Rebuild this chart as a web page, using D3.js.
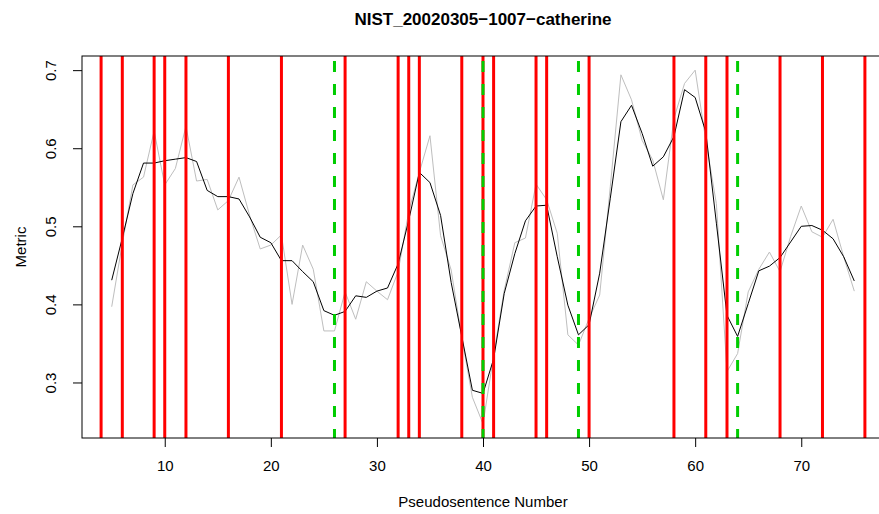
<!DOCTYPE html>
<html>
<head>
<meta charset="utf-8">
<script src="https://cdn.jsdelivr.net/npm/d3@7"></script>
<style>
  html, body { margin: 0; padding: 0; background: #fff; }
  svg { display: block; font-family: "Liberation Sans", Arial, Helvetica, sans-serif; }
</style>
</head>
<body>
<svg id="chart" width="879" height="514"></svg>
<script>
// Pseudosentence numbers along the x axis
const sentences = d3.range(5, 76);

// Raw metric per pseudosentence (grey trace)
const rawMetric = [
  0.397, 0.478, 0.553, 0.563, 0.622, 0.553, 0.574, 0.628, 0.558, 0.560,
  0.521, 0.533, 0.563, 0.514, 0.471, 0.476, 0.489, 0.400, 0.476, 0.445,
  0.366, 0.366, 0.416, 0.381, 0.429, 0.417, 0.406, 0.442, 0.519, 0.569,
  0.616, 0.488, 0.444, 0.358, 0.281, 0.247, 0.334, 0.418, 0.479, 0.485,
  0.554, 0.534, 0.491, 0.361, 0.348, 0.382, 0.412, 0.551, 0.694, 0.662,
  0.610, 0.585, 0.534, 0.638, 0.683, 0.700, 0.610, 0.529, 0.314, 0.337,
  0.416, 0.445, 0.467, 0.442, 0.487, 0.526, 0.493, 0.486, 0.509, 0.461,
  0.417
];

// Smoothed metric per pseudosentence (black trace)
const smoothMetric = [
  0.431, 0.485, 0.542, 0.581, 0.581, 0.584, 0.586, 0.588, 0.583, 0.546,
  0.538, 0.538, 0.535, 0.512, 0.486, 0.479, 0.456, 0.456, 0.442, 0.429,
  0.392, 0.386, 0.391, 0.411, 0.409, 0.417, 0.421, 0.452, 0.508, 0.569,
  0.556, 0.514, 0.428, 0.359, 0.290, 0.286, 0.330, 0.414, 0.465, 0.507,
  0.526, 0.527, 0.461, 0.399, 0.361, 0.374, 0.440, 0.536, 0.634, 0.655,
  0.619, 0.577, 0.589, 0.615, 0.675, 0.665, 0.621, 0.504, 0.386, 0.359,
  0.401, 0.443, 0.449, 0.460, 0.480, 0.500, 0.501, 0.495, 0.484, 0.461,
  0.430
];

// Reference boundaries (solid red) and hypothesised boundaries (dashed green)
const referenceBreaks = [4, 6, 9, 10, 12, 16, 21, 27, 32, 33, 34, 38, 40, 41, 45, 46, 50, 58, 61, 63, 68, 72, 76];
const predictedBreaks = [26, 40, 49, 64];

// Axis ticks
const xTicks = [10, 20, 30, 40, 50, 60, 70];
const yTicks = [0.3, 0.4, 0.5, 0.6, 0.7];

const titleText = "NIST_20020305\u22121007\u2212catherine";
const xLabel = "Pseudosentence Number";
const yLabel = "Metric";

// Plot region in pixels
const plot = { left: 82, right: 884, top: 56, bottom: 438 };

const svg = d3.select("#chart");
svg.append("rect").attr("width", 879).attr("height", 514).attr("fill", "#fff");

// Domains padded by 4% on each side
function padded(ext) {
  const r = ext[1] - ext[0];
  return [ext[0] - 0.04 * r, ext[1] + 0.04 * r];
}
const x = d3.scaleLinear()
  .domain(padded(d3.extent(sentences)))
  .range([plot.left, plot.right]);
const y = d3.scaleLinear()
  .domain(padded(d3.extent(rawMetric)))
  .range([plot.bottom, plot.top]);

svg.append("clipPath").attr("id", "plotClip")
  .append("rect")
  .attr("x", plot.left).attr("y", plot.top)
  .attr("width", plot.right - plot.left).attr("height", plot.bottom - plot.top);

const g = svg.append("g").attr("clip-path", "url(#plotClip)");

const line = d3.line().x((d, i) => x(sentences[i])).y(d => y(d));

g.append("path")
  .datum(rawMetric)
  .attr("d", line)
  .attr("fill", "none")
  .attr("stroke", "#BEBEBE")
  .attr("stroke-width", 1);

g.append("path")
  .datum(smoothMetric)
  .attr("d", line)
  .attr("fill", "none")
  .attr("stroke", "#000")
  .attr("stroke-width", 1);

g.selectAll("line.ref")
  .data(referenceBreaks)
  .join("line")
  .attr("class", "ref")
  .attr("x1", d => x(d)).attr("x2", d => x(d))
  .attr("y1", plot.top).attr("y2", plot.bottom)
  .attr("stroke", "#FF0000")
  .attr("stroke-width", 3);

g.selectAll("line.pred")
  .data(predictedBreaks)
  .join("line")
  .attr("class", "pred")
  .attr("x1", d => x(d)).attr("x2", d => x(d))
  .attr("y1", plot.top).attr("y2", plot.bottom)
  .attr("stroke", "#00CD00")
  .attr("stroke-width", 3)
  .attr("stroke-dasharray", "11,12")
  .attr("stroke-dashoffset", 18);

// Frame around the plot region
svg.append("rect")
  .attr("x", plot.left).attr("y", plot.top)
  .attr("width", plot.right - plot.left).attr("height", plot.bottom - plot.top)
  .attr("fill", "none").attr("stroke", "#000").attr("stroke-width", 1);

// Bottom axis
const xAxis = svg.append("g")
  .attr("transform", `translate(0,${plot.bottom})`)
  .call(d3.axisBottom(x).tickValues(xTicks).tickSize(9).tickSizeOuter(0).tickFormat(d3.format("d")));
xAxis.select(".domain").remove();
xAxis.selectAll(".tick line").attr("stroke", "#000");
xAxis.selectAll(".tick text")
  .attr("y", 33).attr("dy", 0)
  .attr("font-size", 15)
  .attr("font-family", "Liberation Sans, Arial, sans-serif")
  .attr("fill", "#000");

// Left axis with rotated labels
const yAxis = svg.append("g")
  .attr("transform", `translate(${plot.left},0)`)
  .call(d3.axisLeft(y).tickValues(yTicks).tickSize(9).tickSizeOuter(0).tickFormat(d3.format(".1f")));
yAxis.select(".domain").remove();
yAxis.selectAll(".tick line").attr("stroke", "#000");
yAxis.selectAll(".tick text")
  .attr("x", 0).attr("y", 0).attr("dy", 0)
  .attr("text-anchor", "middle")
  .attr("transform", "translate(-26.5,0) rotate(-90)")
  .attr("font-size", 15)
  .attr("font-family", "Liberation Sans, Arial, sans-serif")
  .attr("fill", "#000");

// Title and axis titles
const midX = (plot.left + plot.right) / 2;
const midY = (plot.top + plot.bottom) / 2;

svg.append("text")
  .attr("x", midX).attr("y", 25)
  .attr("text-anchor", "middle")
  .attr("font-size", 17).attr("font-weight", "bold")
  .text(titleText);

svg.append("text")
  .attr("x", midX).attr("y", 507)
  .attr("text-anchor", "middle")
  .attr("font-size", 15)
  .text(xLabel);

svg.append("text")
  .attr("transform", `translate(25.5,${midY}) rotate(-90)`)
  .attr("text-anchor", "middle")
  .attr("font-size", 15)
  .text(yLabel);
</script>
</body>
</html>
